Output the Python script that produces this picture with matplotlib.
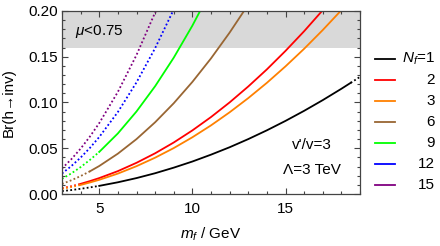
import matplotlib
matplotlib.use('Agg')
import matplotlib.pyplot as plt
from matplotlib.ticker import MultipleLocator, FormatStrFormatter

plt.rcParams['font.family'] = ['Liberation Sans', 'DejaVu Sans']
plt.rcParams['mathtext.fontset'] = 'custom'
plt.rcParams['mathtext.rm'] = 'Liberation Sans'
plt.rcParams['mathtext.it'] = 'Liberation Sans:italic'

# fermion mass grid (GeV)
m = [3, 3.5, 4, 4.5, 5, 6, 7, 8, 9, 10, 11, 12, 13, 14, 15, 16, 17, 18, 18.5, 19]

# Br(h -> inv), one list per N_f
br_1 = [0.0032, 0.0043, 0.0057, 0.0072, 0.0089, 0.0128, 0.0174, 0.0227, 0.0288, 0.0355,
        0.0430, 0.0511, 0.0600, 0.0696, 0.0799, 0.0909, 0.1026, 0.1150, 0.1215, 0.1280]
br_2 = [0.0063, 0.0085, 0.0111, 0.0141, 0.0174, 0.0250, 0.0341, 0.0445, 0.0563, 0.0695,
        0.0841, 0.1001, 0.1175, 0.1362, 0.1564, 0.1779, 0.2009, 0.2252]
br_3 = [0.0056, 0.0076, 0.0099, 0.0126, 0.0155, 0.0223, 0.0304, 0.0397, 0.0502, 0.0620,
        0.0750, 0.0893, 0.1048, 0.1215, 0.1395, 0.1587, 0.1792, 0.2009, 0.2120]
br_6 = [0.0110, 0.0150, 0.0196, 0.0248, 0.0306, 0.0441, 0.0600, 0.0784, 0.0992, 0.1225,
        0.1482, 0.1764, 0.2070]
br_9 = [0.0166, 0.0225, 0.0294, 0.0373, 0.0460, 0.0662, 0.0902, 0.1178, 0.1490, 0.1840, 0.2226]
br_12 = [0.0224, 0.0305, 0.0398, 0.0504, 0.0623, 0.0896, 0.1220, 0.1594, 0.2017]
br_15 = [0.0279, 0.0380, 0.0496, 0.0628, 0.0775, 0.1116, 0.1519, 0.1984, 0.2240]

nf_labels = ['$N_f$=1', '2', '3', '6', '9', '12', '15']
series = [br_1, br_2, br_3, br_6, br_9, br_12, br_15]
colors = ['black', '#ff0000', '#ff8000', '#996633', '#00ff00', '#0000ff', '#800080']
# range of m where the curve is drawn solid (dotted outside)
solid = [(5, 18.5), (4, 99), (4, 99), (4.5, 99), (5, 99), (99, 99), (99, 99)]

fig = plt.figure(figsize=(4.4, 2.46), dpi=100)
ax = fig.add_axes([62/440, 52/246, 298/440, 183/246])

ax.axhspan(0.16, 0.2, color='#d9d9d9', lw=0, zorder=0)

for br, c, (lo, hi) in zip(series, colors, solid):
    x = m[:len(br)]
    dot_lo = [(xi, yi) for xi, yi in zip(x, br) if xi <= lo]
    sol = [(xi, yi) for xi, yi in zip(x, br) if lo <= xi <= hi]
    dot_hi = [(xi, yi) for xi, yi in zip(x, br) if xi >= hi]
    for seg, ls in ((dot_lo, (0, (1, 1.3))), (sol, '-'), (dot_hi, (0, (1, 1.3)))):
        if len(seg) > 1:
            ax.plot([p[0] for p in seg], [p[1] for p in seg], color=c, lw=1.3,
                    ls=ls, dash_capstyle='butt', zorder=2)

ax.set_xlim(3, 19)
ax.set_ylim(0, 0.2)
ax.xaxis.set_major_locator(MultipleLocator(5))
ax.xaxis.set_minor_locator(MultipleLocator(1))
ax.yaxis.set_major_locator(MultipleLocator(0.05))
ax.yaxis.set_minor_locator(MultipleLocator(0.01))
ax.yaxis.set_major_formatter(FormatStrFormatter('%.2f'))
ax.tick_params(which='both', direction='in', top=True, right=True, labelsize=11,
               color='#444444', width=0.8)
ax.tick_params(which='major', length=4)
ax.tick_params(axis='x', which='major', pad=6)
ax.tick_params(axis='y', which='major', pad=3)
ax.tick_params(which='minor', length=2)
for s in ax.spines.values():
    s.set_color('#444444')
    s.set_linewidth(0.9)

ax.set_xlabel('$m_f$ / GeV', fontsize=11, labelpad=7)
ax.set_ylabel('Br(h\u2192inv)', fontsize=11, labelpad=9)

ax.text(3.7, 0.178, '$\\mu$<0.75', fontsize=11, va='center', ha='left')
ax.text(16.4, 0.0535, "v'/v=3", fontsize=11, va='center', ha='center')
ax.text(16.4, 0.026, '\u039b=3 TeV', fontsize=11, va='center', ha='center')

# legend drawn in figure pixel coordinates
lg = fig.add_axes([0, 0, 1, 1], facecolor='none')
lg.set_xlim(0, 440)
lg.set_ylim(246, 0)
lg.axis('off')
for i, (lab, c) in enumerate(zip(nf_labels, colors)):
    yy = 59 + 21 * i
    lg.plot([375, 395], [yy, yy], color=c, lw=1.3)
    lg.text(435, yy, lab, fontsize=11, ha='right', va='center')

fig.savefig('out.png', dpi=100)
